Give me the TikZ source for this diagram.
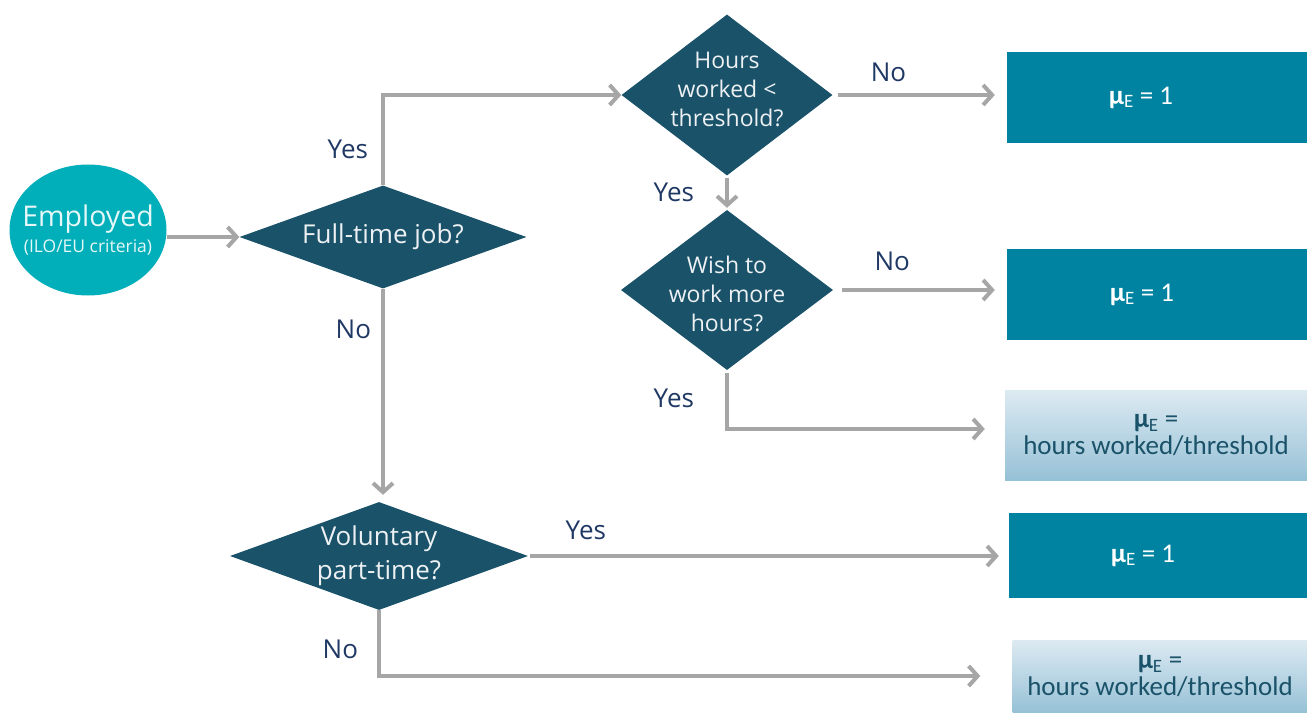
\documentclass[tikz,border=0pt]{standalone}
\usepackage{fontspec}
\setmainfont{Open Sans}
\newfontfamily\carl{Carlito}
\usetikzlibrary{shapes.geometric,arrows.meta}

\definecolor{DiaBlue}{HTML}{1A5269}
\definecolor{EmpTeal}{HTML}{00AFB9}
\definecolor{BoxTeal}{HTML}{0083A0}
\definecolor{ArrGray}{HTML}{A6A6A6}
\definecolor{LblNavy}{HTML}{1F3864}
\definecolor{GradTop}{HTML}{DDEAF2}
\definecolor{GradBot}{HTML}{96C1D6}

\newcommand{\muE}{\textbf{μ}\textsubscript{E}}

\tikzset{
  dia/.style={diamond, fill=DiaBlue, inner sep=0pt},
  dtxt/.style={text=white!92!DiaBlue, align=center},
  mubox/.style={rectangle, fill=BoxTeal, inner sep=0pt},
  gradbox/.style={rectangle, top color=GradTop, bottom color=GradBot, inner sep=0pt},
  btxt/.style={align=center, font=\carl\fontsize{27}{27}\selectfont},
  arr/.style={draw=ArrGray, line width=4pt, -{Straight Barb[length=9pt,width=20pt]}},
  lbl/.style={text=LblNavy, inner sep=1pt, font=\fontsize{26}{30}\selectfont},
}

\begin{document}
\begin{tikzpicture}[x=1pt, y=-1pt]
    \useasboundingbox (0,0) rectangle (1307,725);

    \node[ellipse, fill=EmpTeal, minimum width=157pt, minimum height=131pt,
      label={[dtxt, text=white!90!EmpTeal]center:{\fontsize{28.5}{30}\selectfont Employed\\[5pt]\fontsize{17.5}{19}\selectfont(ILO/EU criteria)}}] (Emp) at (88,230) {};
    \node[dia, minimum width=287pt, minimum height=103pt,
      label={[dtxt, font=\fontsize{26}{30}\selectfont]center:Full-time job?}] (FullT) at (383,237) {};
    \node[dia, minimum width=211pt, minimum height=161pt,
      label={[dtxt, yshift=6pt, font=\fontsize{23}{29}\selectfont]center:{Hours\\worked <\\threshold?}}] (HrsT) at (727,95) {};
    \node[dia, minimum width=212pt, minimum height=160pt,
      label={[dtxt, yshift=-4pt, font=\fontsize{23}{29}\selectfont]center:{Wish to\\work more\\hours?}}] (Wish) at (727,290) {};
    \node[dia, minimum width=298pt, minimum height=108pt,
      label={[dtxt, font=\fontsize{26}{34}\selectfont]center:{Voluntary\\part-time?}}] (Vol) at (379,556) {};

    \node[mubox, minimum width=300pt, minimum height=91pt,
      label={[btxt, text=white, xshift=-16pt]center:{\muE{} = 1}}] (MuA) at (1157,97.5) {};
    \node[mubox, minimum width=300pt, minimum height=91pt,
      label={[btxt, text=white, xshift=-15pt]center:{\muE{} = 1}}] (MuB) at (1157,294.5) {};
    \node[gradbox, minimum width=302pt, minimum height=90pt,
      label={[btxt, text=DiaBlue]center:{\muE{} =\\hours worked/threshold}}] (MuC) at (1156,435) {};
    \node[mubox, minimum width=298pt, minimum height=85pt,
      label={[btxt, text=white, xshift=-15pt]center:{\muE{} = 1}}] (MuD) at (1158,555.5) {};
    \node[gradbox, minimum width=295pt, minimum height=72pt,
      label={[btxt, text=DiaBlue]center:{\muE{} =\\hours worked/threshold}}] (MuE) at (1160,676) {};

    \draw[arr] (Emp.east |- FullT.west) -- (FullT.west);
    \draw[arr] (FullT.north) |- node[lbl, left=12pt, pos=0.2] (YesFT) {Yes} (HrsT.west);
    \draw[arr, shorten <=5pt, shorten >=12pt] (HrsT.east) -- node[lbl, above=10pt, pos=0.32] (NoH) {No} (HrsT.east -| MuA.west);
    \draw[arr, shorten <=2pt, shorten >=2pt] (HrsT.south) -- node[lbl, left=30pt] (YesH) {Yes} (Wish.north);
    \draw[arr, shorten <=9pt, shorten >=12pt] (Wish.east) -- node[lbl, above=16pt, pos=0.34] (NoW) {No} (Wish.east -| MuB.west);
    \draw[arr, shorten <=3pt, shorten >=20pt] (Wish.south) |- node[lbl, left=30pt, pos=0.24] (YesW) {Yes} ([yshift=6pt]MuC.west);
    \draw[arr, shorten >=7pt] (FullT.south) -- node[lbl, left=9pt, pos=0.19] (NoFT) {No} (FullT.south |- Vol.north);
    \draw[arr, shorten <=2pt, shorten >=10pt] (Vol.east) -- node[lbl, above=13pt, pos=0.12] (YesV) {Yes} (Vol.east -| MuD.west);
    \draw[arr, shorten >=32pt] (Vol.south) |- node[lbl, left=18pt, pos=0.3] (NoV) {No} (MuE.west);
\end{tikzpicture}
\end{document}
